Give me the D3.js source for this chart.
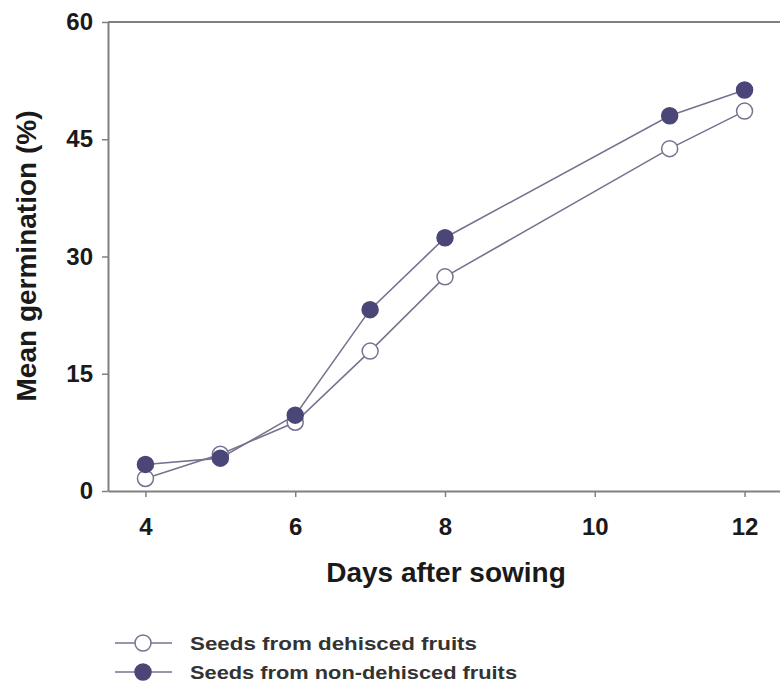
<!DOCTYPE html>
<html>
<head>
<meta charset="utf-8">
<script src="https://cdn.jsdelivr.net/npm/d3@7"></script>
<style>
  body { margin: 0; background: #fff; }
  text { font-family: "Liberation Sans", Arial, sans-serif; }
</style>
</head>
<body>
<div id="chart"></div>
<script>
// days after sowing
const days = [4, 5, 6, 7, 8, 11, 12];
// mean germination (%)
const dehisced = [1.6, 4.7, 8.8, 17.9, 27.4, 43.8, 48.6];
const nonDehisced = [3.4, 4.2, 9.7, 23.2, 32.4, 48.0, 51.3];
const seriesNames = ["Seeds from dehisced fruits", "Seeds from non-dehisced fruits"];
const xTicks = [4, 6, 8, 10, 12];
const yTicks = [0, 15, 30, 45, 60];

const width = 780, height = 685;
const fillColor = "#4b4678";
const lineColor = "#77738f";
const axisColor = "#808080";

let svg = d3.select("#chart")
    .append("svg")
    .attr("width", width)
    .attr("height", height);

let x = d3.scaleLinear().domain([3.5, 12.5]).range([108, 782]);
let y = d3.scaleLinear().domain([0, 60]).range([491, 22]);

// top frame line
svg.append("line")
    .attr("x1", x(3.5)).attr("x2", x(12.5))
    .attr("y1", y(60)).attr("y2", y(60))
    .attr("stroke", axisColor).attr("stroke-width", 2);

// y axis
let yAxis = svg.append("g")
    .attr("transform", `translate(${x(3.5)},0)`)
    .call(d3.axisLeft(y).tickValues(yTicks).tickSize(6).tickPadding(9).tickSizeOuter(0));

// x axis
let xAxis = svg.append("g")
    .attr("transform", `translate(0,${y(0)})`)
    .call(d3.axisBottom(x).tickValues(xTicks).tickSize(6).tickPadding(21).tickSizeOuter(0));

[yAxis, xAxis].forEach(function(g) {
    g.select(".domain").attr("stroke", axisColor).attr("stroke-width", 2);
    g.selectAll(".tick line").attr("stroke", axisColor).attr("stroke-width", 1.5);
    g.selectAll(".tick text")
        .attr("fill", "#1a1a1a")
        .style("font-size", "24px")
        .style("font-weight", "bold");
});

// axis titles
svg.append("text")
    .attr("transform", `translate(36, 256) rotate(-90)`)
    .style("text-anchor", "middle")
    .style("font-size", "28px")
    .style("font-weight", "bold")
    .attr("fill", "#1a1a1a")
    .text("Mean germination (%)");

svg.append("text")
    .attr("x", 446)
    .attr("y", 582)
    .style("text-anchor", "middle")
    .style("font-size", "28px")
    .style("font-weight", "bold")
    .attr("fill", "#1a1a1a")
    .text("Days after sowing");

// lines and points
let series = [
    { name: seriesNames[0], values: dehisced, fill: "#ffffff" },
    { name: seriesNames[1], values: nonDehisced, fill: fillColor }
];

let line = d3.line()
    .x(function(d) { return x(d[0]); })
    .y(function(d) { return y(d[1]); });

series.forEach(function(s) {
    let pts = days.map(function(d, i) { return [d, s.values[i]]; });
    svg.append("path")
        .datum(pts)
        .attr("fill", "none")
        .attr("stroke", lineColor)
        .attr("stroke-width", 1.6)
        .attr("d", line);
});

series.forEach(function(s) {
    svg.append("g").selectAll("circle")
        .data(days.map(function(d, i) { return [d, s.values[i]]; }))
        .join("circle")
        .attr("cx", function(d) { return x(d[0]); })
        .attr("cy", function(d) { return y(d[1]); })
        .attr("r", 8)
        .attr("fill", s.fill)
        .attr("stroke", s.fill === "#ffffff" ? lineColor : fillColor)
        .attr("stroke-width", 1.5);
});

// legend
let legendRows = [643, 672];
let legendLengths = [287, 327];
series.forEach(function(s, i) {
    let g = svg.append("g").attr("transform", `translate(0,${legendRows[i]})`);
    g.append("line")
        .attr("x1", 115).attr("x2", 172)
        .attr("stroke", lineColor).attr("stroke-width", 1.6);
    g.append("circle")
        .attr("cx", 143).attr("r", 8)
        .attr("fill", s.fill)
        .attr("stroke", s.fill === "#ffffff" ? lineColor : fillColor)
        .attr("stroke-width", 1.5);
    g.append("text")
        .attr("x", 190)
        .attr("y", 7)
        .attr("textLength", legendLengths[i])
        .attr("lengthAdjust", "spacingAndGlyphs")
        .style("font-size", "19px")
        .style("font-weight", "bold")
        .attr("fill", "#333")
        .text(s.name);
});
</script>
</body>
</html>
